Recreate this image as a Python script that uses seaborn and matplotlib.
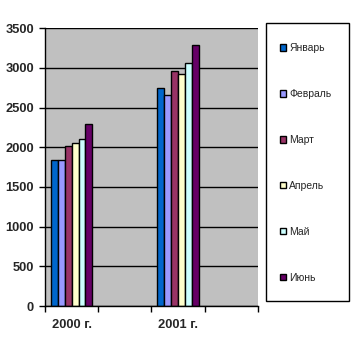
import pandas as pd
import seaborn as sns
import matplotlib.pyplot as plt
from matplotlib.patches import Rectangle
from matplotlib.ticker import FixedLocator, MultipleLocator

# data
years = ["2000 г.", "2001 г."]
months = ["Январь", "Февраль", "Март", "Апрель", "Май", "Июнь"]
sales_2000 = [1835, 1840, 2020, 2050, 2100, 2290]
sales_2001 = [2740, 2655, 2965, 2925, 3060, 3290]
colors = ["#0066CC", "#9999FF", "#993366", "#FFFFCC", "#CCFFFF", "#660066"]

df = pd.DataFrame({
    "year": [years[0]] * len(months) + [years[1]] * len(months),
    "month": months * 2,
    "value": sales_2000 + sales_2001,
})

sns.set_style("white")
plt.rcParams['font.family'] = ['Liberation Sans', 'DejaVu Sans']

fig = plt.figure(figsize=(3.56, 3.51), dpi=100)
ax = fig.add_axes([0.1264, 0.128, 0.598, 0.792])

# empty categories keep the Excel-like spacing between the two groups
order = [years[0], " ", years[1], "  "]
sns.barplot(data=df, x="year", y="value", hue="month", order=order,
            hue_order=months, palette=colors, saturation=1, width=0.78,
            gap=0, edgecolor="black", linewidth=1, ax=ax)

ax.set_facecolor("#C0C0C0")
ax.set_axisbelow(True)
ax.yaxis.grid(True, color="black", linewidth=1)
ax.set_ylim(0, 3500)
ax.set_xlim(-0.5, 3.5)
ax.yaxis.set_major_locator(MultipleLocator(500))
ax.xaxis.set_major_locator(FixedLocator([0, 2]))
ax.set_xticklabels(years)
ax.xaxis.set_minor_locator(FixedLocator([-0.5, 0.5, 1.5, 2.5, 3.5]))
ax.set_xlabel("")
ax.set_ylabel("")

ax.tick_params(axis="x", which="major", length=0, pad=9)
ax.tick_params(axis="x", which="minor", length=4, width=1, bottom=True,
               direction="out", color="black")
ax.tick_params(axis="y", length=4, width=1, left=True, direction="out",
               color="black", pad=4)
for lab in ax.get_xticklabels() + ax.get_yticklabels():
    lab.set_fontweight("bold")
    lab.set_fontsize(9.3)

for s in ["top", "right"]:
    ax.spines[s].set_visible(False)
for s in ["left", "bottom"]:
    ax.spines[s].set_color("black")
    ax.spines[s].set_linewidth(1)

# legend box drawn separately so entries can sit freely inside it
fig.patches.append(Rectangle((266 / 356, 1 - 301 / 351), 83 / 356, 278 / 351,
                             transform=fig.transFigure, facecolor="white",
                             edgecolor="black", linewidth=1, zorder=0))

handles, labels = ax.get_legend_handles_labels()
ax.get_legend().remove()
leg = fig.legend(handles, labels, loc="upper left",
                 bbox_to_anchor=(280 / 356, 1 - 43 / 351),
                 fontsize=7.5, labelspacing=3.45, handlelength=0.6,
                 handleheight=0.6, handletextpad=0.3, borderpad=0,
                 borderaxespad=0, frameon=False)

fig.savefig("out.png", dpi=100)
